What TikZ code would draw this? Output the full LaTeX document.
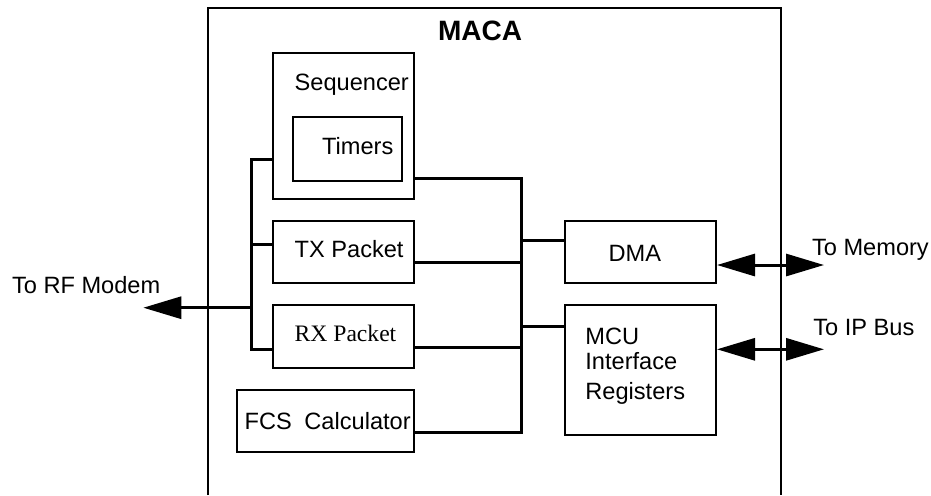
\documentclass[tikz,border=0pt]{standalone}
\usepackage{fontspec}
\setmainfont{Liberation Sans}
\newfontfamily\timesfont{Liberation Serif}
\usetikzlibrary{arrows.meta}

\begin{document}
\begin{tikzpicture}[x=0.5pt,y=-0.5pt,>={Triangle[length=19pt,width=11pt]},
  font=\fontsize{11.8}{14}\selectfont,
  blk/.style={draw,line width=1pt,inner sep=0pt},
  txt/.style={anchor=base west,inner sep=0pt},
  bus/.style={line width=1.5pt}]
\useasboundingbox (0,0) rectangle (931,495);
% MACA frame, open at the bottom
\draw[line width=1pt] (207.7,495) -- (207.7,7.5) -- (780.7,7.5) -- (780.7,495);
\node[txt,font=\fontsize{14}{16}\selectfont\bfseries] (maca) at (437.7,40) {MACA};
% blocks
\node[blk,minimum width=70.65pt,minimum height=72.85pt] (seq) at (343.3,126.2) {};
\node[blk,minimum width=54.5pt,minimum height=32.15pt] (tim) at (347.8,148.8) {};
\node[blk,minimum width=70.65pt,minimum height=31.3pt] (tx) at (343.3,252) {};
\node[blk,minimum width=70.65pt,minimum height=31.65pt] (rx) at (343.3,336.7) {};
\node[blk,minimum width=88.65pt,minimum height=31.15pt] (fcs) at (325.3,421.2) {};
\node[blk,minimum width=75.5pt,minimum height=31.3pt] (dma) at (640.5,252) {};
\node[blk,minimum width=75.5pt,minimum height=64.85pt] (mcu) at (640.5,370.2) {};
\node[txt] (seqlbl) at (294.3,90.7) {Sequencer};
\node[txt] (timlbl) at (321.7,154) {Timers};
\node[txt] (txlbl) at (294.3,257.3) {TX Packet};
\node[txt,font=\fontsize{11.8}{14}\selectfont\timesfont] (rxlbl) at (294.3,341.7) {RX Packet};
\node[txt] (fcslbl) at (244.3,429) {FCS\hspace{3pt} Calculator};
\node[txt] (dmalbl) at (608.3,261) {DMA};
\node[anchor=north west,inner sep=0pt,align=left,font=\fontsize{11.8}{12.5}\selectfont] (mculbl) at (585,327.7) {MCU\\Interface\\[2.5pt]Registers};
% left bus
\coordinate (lb1) at (251.7,159.3);
\coordinate (lb2) at (251.7,244.5);
\coordinate (lb3) at (251.7,349);
\coordinate (lbrf) at (251.7,307.7);
\coordinate (rfend) at (143.3,307.7);
\draw[bus] (seq.west |- lb1) -- (lb1) -- (lb3) -- (rx.west |- lb3);
\draw[bus] (lb2) -- (tx.west |- lb2);
\draw[bus,->] (lbrf) -- (rfend);
\node[txt] (rflbl) at (11.7,293.3) {To RF Modem};
% right bus
\coordinate (rb1) at (521.7,178.3);
\coordinate (rb2) at (521.7,262.3);
\coordinate (rb3) at (521.7,347.3);
\coordinate (rb4) at (521.7,432.3);
\coordinate (rbdma) at (521.7,240.7);
\coordinate (rbmcu) at (521.7,326);
\draw[bus] (seq.east |- rb1) -- (rb1) -- (rb4) -- (fcs.east |- rb4);
\draw[bus] (tx.east |- rb2) -- (rb2);
\draw[bus] (rx.east |- rb3) -- (rb3);
\draw[bus] (rbdma) -- (dma.west |- rbdma);
\draw[bus] (rbmcu) -- (mcu.west |- rbmcu);
% outside links
\coordinate (memend) at (824,265);
\coordinate (ipend) at (824,349.3);
\draw[bus,<->] (dma.east |- memend) -- (memend);
\draw[bus,<->] (mcu.east |- ipend) -- (ipend);
\node[txt] (memlbl) at (811.7,255) {To Memory};
\node[txt] (iplbl) at (813,335) {To IP Bus};
\end{tikzpicture}
\end{document}
